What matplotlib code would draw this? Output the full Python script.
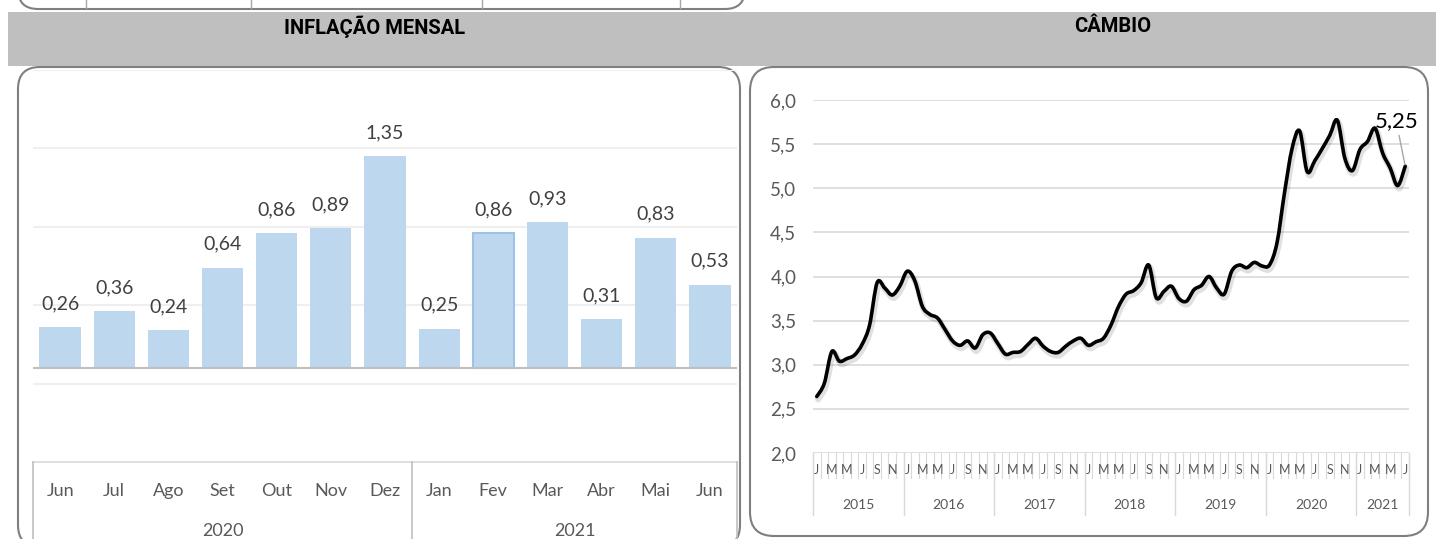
import numpy as np
import matplotlib
matplotlib.use("Agg")
import matplotlib.pyplot as plt
from matplotlib.patches import FancyBboxPatch, Rectangle, PathPatch
from matplotlib.path import Path
import matplotlib.patheffects as pe

plt.rcParams["font.family"] = ["Lato", "DejaVu Sans"]

W, H = 1436, 539

# inflação mensal (%)
meses_inflacao = ["Jun", "Jul", "Ago", "Set", "Out", "Nov", "Dez",
                  "Jan", "Fev", "Mar", "Abr", "Mai", "Jun"]
anos_inflacao = ["2020", "2021"]
meses_por_ano_inflacao = [7, 6]
inflacao = [0.26, 0.36, 0.24, 0.64, 0.86, 0.89, 1.35,
            0.25, 0.86, 0.93, 0.31, 0.83, 0.53]

# câmbio R$/US$ (média mensal), jan/2015 a jul/2021
anos_cambio = ["2015", "2016", "2017", "2018", "2019", "2020", "2021"]
meses_por_ano_cambio = [12, 12, 12, 12, 12, 12, 7]
letras_meses = ["J", "F", "M", "A", "M", "J", "J", "A", "S", "O", "N", "D"]
cambio = [2.64, 2.79, 3.15, 3.04, 3.07, 3.11, 3.23, 3.45, 3.93, 3.87, 3.79, 3.89,
          4.06, 3.95, 3.66, 3.57, 3.53, 3.40, 3.27, 3.22, 3.27, 3.19, 3.34, 3.36,
          3.24, 3.12, 3.14, 3.15, 3.23, 3.30, 3.21, 3.15, 3.14, 3.21, 3.27, 3.30,
          3.22, 3.26, 3.30, 3.45, 3.66, 3.80, 3.84, 3.93, 4.13, 3.76, 3.83, 3.89,
          3.75, 3.72, 3.85, 3.90, 4.00, 3.87, 3.80, 4.06, 4.13, 4.10, 4.16, 4.12,
          4.13, 4.38, 4.95, 5.45, 5.65, 5.19, 5.31, 5.45, 5.60, 5.77, 5.34, 5.20,
          5.44, 5.53, 5.68, 5.40, 5.23, 5.03, 5.25]

CINZA_TXT = "#595959"


def caixa(x0, y0, x1, y1):
    # retângulo em pixels (origem no topo) -> fração da figura
    return [x0 / W, 1 - y1 / H, (x1 - x0) / W, (y1 - y0) / H]


def virgula(v, casas=2):
    return f"{v:.{casas}f}".replace(".", ",")


def curva_suave(xs, ys):
    # curva de Bézier passando pelos pontos (suavização tipo Excel)
    p = np.column_stack([xs, ys]).astype(float)
    ext = np.vstack([p[0], p, p[-1]])
    verts = [p[0]]
    codes = [Path.MOVETO]
    for i in range(len(p) - 1):
        p0, p1, p2, p3 = ext[i], ext[i + 1], ext[i + 2], ext[i + 3]
        verts += [p1 + (p2 - p0) / 6, p2 - (p3 - p1) / 6, p2]
        codes += [Path.CURVE4] * 3
    return Path(verts, codes)


fig = plt.figure(figsize=(W / 100, H / 100), dpi=100)

fundo = fig.add_axes([0, 0, 1, 1])
fundo.set_xlim(0, W)
fundo.set_ylim(H, 0)
fundo.axis("off")

# rodapé do quadro de cima
fundo.add_patch(FancyBboxPatch((18, -60), 727, 69, boxstyle="round,pad=0,rounding_size=20",
                               fc="white", ec="#7F7F7F", lw=1.5))
for xl in [86, 251, 482, 680]:
    fundo.plot([xl, xl], [0, 8], color="#A6A6A6", lw=1)

# faixa de títulos
fundo.add_patch(Rectangle((8, 12), W - 8, 54, fc="#BFBFBF", ec="none"))
fonte_titulo = dict(ha="center", va="center", fontsize=14.5, fontweight="bold",
                    family=["Roboto", "DejaVu Sans"], color="black")
fundo.text(375, 27, "INFLAÇÃO MENSAL", **fonte_titulo)
fundo.text(1113, 27, "CÂMBIO", **fonte_titulo)

# molduras dos gráficos
fundo.add_patch(FancyBboxPatch((18, 67), 722, 480, boxstyle="round,pad=0,rounding_size=22",
                               fc="white", ec="#7F7F7F", lw=1.5))
fundo.add_patch(FancyBboxPatch((750, 67), 678, 469, boxstyle="round,pad=0,rounding_size=24",
                               fc="white", ec="#7F7F7F", lw=1.5))

# ---------- inflação mensal ----------
ax1 = fig.add_axes(caixa(33, 70, 737, 462))
ax1.set_facecolor("none")
x = np.arange(len(inflacao))
barras = ax1.bar(x, inflacao, width=0.76, color="#BDD7EE", zorder=2)
barras[8].set_edgecolor("#9DC3E6")
barras[8].set_linewidth(1.5)
ax1.set_xlim(-0.5, len(inflacao) - 0.5)
ax1.set_ylim(-0.6, 1.9)
for g in [-0.1, 0.4, 0.9, 1.4, 1.9]:
    ax1.axhline(g, color="#EFEFEF", lw=1.5, zorder=1)
ax1.axhline(0, color="#BFBFBF", lw=1.5, zorder=3)
for b, v in zip(barras, inflacao):
    ax1.annotate(virgula(v), (b.get_x() + b.get_width() / 2, v), xytext=(0, 13),
                 textcoords="offset points", ha="center", va="baseline",
                 fontsize=14, color="#404040")
ax1.axis("off")

tr1 = ax1.get_xaxis_transform()
h1 = 392.0
ax1.plot([-0.5, len(inflacao) - 0.5], [0, 0], transform=tr1, color="#D9D9D9", lw=1.2, clip_on=False)
for i, m in enumerate(meses_inflacao):
    ax1.text(i, -29 / h1, m, transform=tr1, ha="center", va="center",
             fontsize=13, color=CINZA_TXT, clip_on=False)
limites = np.concatenate([[0], np.cumsum(meses_por_ano_inflacao)]) - 0.5
for lim in limites:
    ax1.plot([lim, lim], [0, -90 / h1], transform=tr1, color="#BFBFBF", lw=1.2, clip_on=False)
for a, ini, fim in zip(anos_inflacao, limites[:-1], limites[1:]):
    ax1.text((ini + fim) / 2, -69 / h1, a, transform=tr1, ha="center", va="center",
             fontsize=13, color=CINZA_TXT, clip_on=False)

# ---------- câmbio ----------
ax2 = fig.add_axes(caixa(813, 100, 1409, 453))
ax2.set_facecolor("none")
n = len(cambio)
xc = np.arange(n)
ax2.set_xlim(-0.5, n - 0.5)
ax2.set_ylim(2.0, 6.0)
yt = np.arange(2.0, 6.01, 0.5)
ax2.set_yticks(yt, [virgula(v, 1) for v in yt])
ax2.tick_params(axis="y", length=0, pad=12, labelsize=13.5, labelcolor=CINZA_TXT)
ax2.set_xticks([])
for s in ax2.spines.values():
    s.set_visible(False)
ax2.grid(axis="y", color="#D9D9D9", lw=1.2)
ax2.set_axisbelow(True)

linha = PathPatch(curva_suave(xc, cambio), fill=False, ec="black", lw=2.6,
                  capstyle="round", joinstyle="round", zorder=3)
linha.set_path_effects([pe.SimpleLineShadow(offset=(1, -2), shadow_color="black",
                                            alpha=0.12, linewidth=4.5),
                        pe.Normal()])
ax2.add_patch(linha)

ax2.annotate(virgula(cambio[-1]), (xc[-1], cambio[-1]), xytext=(-9, 45),
             textcoords="offset pixels", ha="center", va="center", fontsize=16,
             color="black",
             arrowprops=dict(arrowstyle="-", color="#A6A6A6", lw=1, shrinkA=1, shrinkB=1))

tr2 = ax2.get_xaxis_transform()
h2 = 353.0
for i in range(n + 1):
    ax2.plot([i - 0.5, i - 0.5], [0, -25 / h2], transform=tr2, color="#D9D9D9",
             lw=0.8, clip_on=False)
for i in range(n):
    k = i % 12
    if k % 2 == 0:
        ax2.text(i, -17 / h2, letras_meses[k], transform=tr2, ha="center", va="center",
                 fontsize=9, color=CINZA_TXT, clip_on=False)
lim2 = np.concatenate([[0], np.cumsum(meses_por_ano_cambio)]) - 0.5
for lim in lim2:
    ax2.plot([lim, lim], [0, -62 / h2], transform=tr2, color="#D9D9D9", lw=1,
             clip_on=False)
for a, ini, fim in zip(anos_cambio, lim2[:-1], lim2[1:]):
    ax2.text((ini + fim) / 2, -52 / h2, a, transform=tr2, ha="center", va="center",
             fontsize=10, color=CINZA_TXT, clip_on=False)

fig.savefig("out.png", dpi=100)
